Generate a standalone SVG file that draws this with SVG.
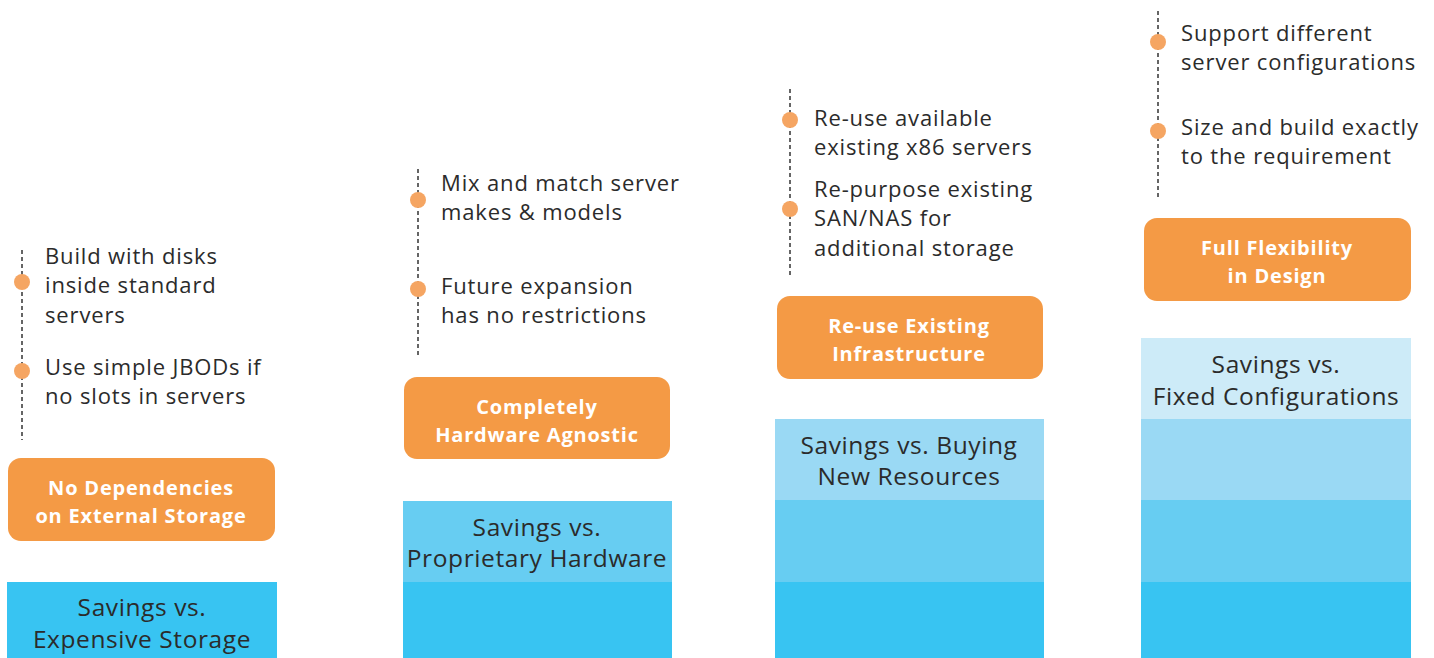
<svg xmlns="http://www.w3.org/2000/svg" width="1434" height="658" viewBox="0 0 1434 658">
<style>
.bt{font-family:"Open Sans","Liberation Sans",sans-serif;font-size:22px;letter-spacing:0.85px;fill:#2b2b2b}
.ot{font-family:"Open Sans","Liberation Sans",sans-serif;font-size:20px;letter-spacing:0.8px;font-weight:bold;fill:#ffffff;text-anchor:middle}
.st{font-family:"Open Sans","Liberation Sans",sans-serif;font-size:24.5px;letter-spacing:0.6px;fill:#2b2b2b;text-anchor:middle}
.ob{fill:#f49a45}
.c1{fill:#38c4f2}.c2{fill:#67cdf2}.c3{fill:#9ad9f4}.c4{fill:#cdebf8}
.dl{stroke:#333;stroke-width:1.5;stroke-dasharray:4 3;fill:none}
.dot{fill:#f5a562}
</style>
<rect width="1434" height="658" fill="#fff"/>
<g id="connectors">
<line class="dl" x1="22" y1="250" x2="22" y2="440"/>
<line class="dl" x1="418" y1="169" x2="418" y2="358"/>
<line class="dl" x1="790" y1="89" x2="790" y2="278"/>
<line class="dl" x1="1158" y1="11" x2="1158" y2="200"/>
</g>
<g id="col1">
<rect class="c1" x="7" y="582" width="270" height="76"/>
<text class="st" x="142" y="616">Savings vs.</text>
<text class="st" x="142" y="648">Expensive Storage</text>
<rect class="ob" x="8" y="458" width="267" height="83" rx="13"/>
<text class="ot" x="141" y="495">No Dependencies</text>
<text class="ot" x="141" y="523">on External Storage</text>
<circle class="dot" cx="22" cy="282" r="8"/>
<circle class="dot" cx="22" cy="371" r="8"/>
<text class="bt" x="45" y="264">Build with disks</text>
<text class="bt" x="45" y="293">inside standard</text>
<text class="bt" x="45" y="323">servers</text>
<text class="bt" x="45" y="375">Use simple JBODs if</text>
<text class="bt" x="45" y="404">no slots in servers</text>
</g>
<g id="col2">
<rect class="c2" x="403" y="501" width="269" height="81"/>
<rect class="c1" x="403" y="582" width="269" height="76"/>
<text class="st" x="537" y="536">Savings vs.</text>
<text class="st" x="537" y="567">Proprietary Hardware</text>
<rect class="ob" x="404" y="377" width="266" height="82" rx="13"/>
<text class="ot" x="537" y="414">Completely</text>
<text class="ot" x="537" y="442">Hardware Agnostic</text>
<circle class="dot" cx="418" cy="200" r="8"/>
<circle class="dot" cx="418" cy="289" r="8"/>
<text class="bt" x="441" y="191">Mix and match server</text>
<text class="bt" x="441" y="220">makes &amp; models</text>
<text class="bt" x="441" y="294">Future expansion</text>
<text class="bt" x="441" y="323">has no restrictions</text>
</g>
<g id="col3">
<rect class="c3" x="775" y="419" width="269" height="81"/>
<rect class="c2" x="775" y="500" width="269" height="82"/>
<rect class="c1" x="775" y="582" width="269" height="76"/>
<text class="st" x="909" y="454">Savings vs. Buying</text>
<text class="st" x="909" y="485">New Resources</text>
<rect class="ob" x="777" y="296" width="266" height="83" rx="13"/>
<text class="ot" x="909" y="333">Re-use Existing</text>
<text class="ot" x="909" y="361">Infrastructure</text>
<circle class="dot" cx="790" cy="120" r="8"/>
<circle class="dot" cx="790" cy="209" r="8"/>
<text class="bt" x="814" y="126">Re-use available</text>
<text class="bt" x="814" y="155">existing x86 servers</text>
<text class="bt" x="814" y="197">Re-purpose existing</text>
<text class="bt" x="814" y="226">SAN/NAS for</text>
<text class="bt" x="814" y="256">additional storage</text>
</g>
<g id="col4">
<rect class="c4" x="1141" y="338" width="270" height="81"/>
<rect class="c3" x="1141" y="419" width="270" height="81"/>
<rect class="c2" x="1141" y="500" width="270" height="82"/>
<rect class="c1" x="1141" y="582" width="270" height="76"/>
<text class="st" x="1276" y="373">Savings vs.</text>
<text class="st" x="1276" y="405">Fixed Configurations</text>
<rect class="ob" x="1144" y="218" width="267" height="83" rx="13"/>
<text class="ot" x="1277" y="255">Full Flexibility</text>
<text class="ot" x="1277" y="283">in Design</text>
<circle class="dot" cx="1158" cy="42" r="8"/>
<circle class="dot" cx="1158" cy="131" r="8"/>
<text class="bt" x="1181" y="41">Support different</text>
<text class="bt" x="1181" y="70">server configurations</text>
<text class="bt" x="1181" y="135">Size and build exactly</text>
<text class="bt" x="1181" y="164">to the requirement</text>
</g>
</svg>
